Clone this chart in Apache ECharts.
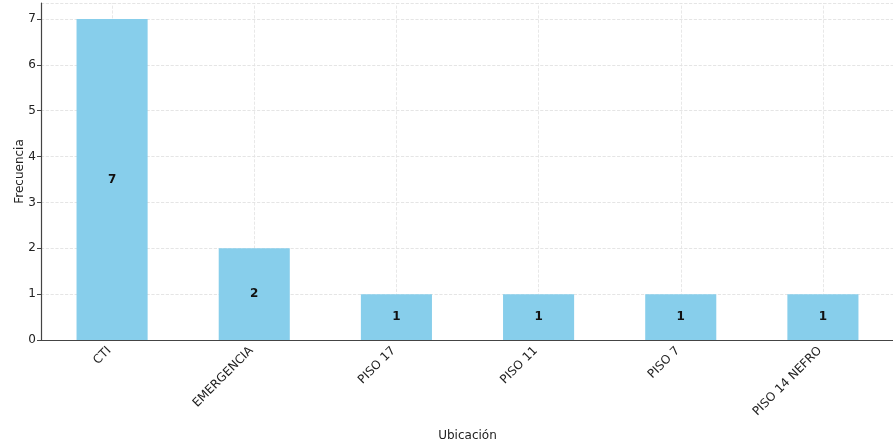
<!DOCTYPE html>
<html>
<head>
<meta charset="utf-8">
<script src="https://cdn.jsdelivr.net/npm/echarts@6/dist/echarts.min.js"></script>
<style>html,body{margin:0;padding:0;background:#fff}#c{width:893px;height:447px}</style>
</head>
<body>
<div id="c"></div>
<script>
const categories = ["CTI", "EMERGENCIA", "PISO 17", "PISO 11", "PISO 7", "PISO 14 NEFRO"];
const frecuencia = [7, 2, 1, 1, 1, 1];
const yTicks = [0, 1, 2, 3, 4, 5, 6, 7];

const chart = echarts.init(document.getElementById('c'), null, {renderer: 'canvas'});
const font = 'DejaVu Sans';
chart.setOption({
  animation: false,
  backgroundColor: '#ffffff',
  grid: {left: 41, top: 3, width: 853, bottom: 107, containLabel: false, outerBoundsMode: 'none'},
  xAxis: {
    type: 'category',
    data: categories,
    name: 'Ubicación',
    nameLocation: 'middle',
    nameGap: 90,
    nameMoveOverlap: false,
    nameTextStyle: {fontFamily: font, fontSize: 12, color: '#222'},
    axisLine: {lineStyle: {color: '#444', width: 1.2}},
    axisTick: {alignWithLabel: true, length: 4, lineStyle: {color: '#444'}},
    axisLabel: {rotate: 45, fontFamily: font, fontSize: 12, color: '#222', margin: 6, padding: [0, 4, 0, 0]},
    splitLine: {show: false}
  },
  yAxis: {
    type: 'value',
    min: 0,
    max: 7.35,
    interval: 1,
    name: 'Frecuencia',
    nameLocation: 'middle',
    nameGap: 15,
    nameMoveOverlap: false,
    nameTextStyle: {fontFamily: font, fontSize: 12, color: '#222'},
    axisLine: {show: true, lineStyle: {color: '#444', width: 1.2}},
    axisTick: {show: true, length: 4, lineStyle: {color: '#444'}},
    axisLabel: {fontFamily: font, fontSize: 12, color: '#222', margin: 5, showMaxLabel: false,
      formatter: v => yTicks.includes(v) ? String(v) : ''},
    splitLine: {show: true, lineStyle: {color: '#dedede', type: 'dashed', width: 0.8}}
  },
  series: [{
    type: 'bar',
    data: frecuencia,
    barWidth: '50%',
    z: 3,
    itemStyle: {color: '#87CEEB'},
    label: {show: true, position: 'inside', fontFamily: font, fontSize: 12, fontWeight: 'bold', color: '#111'},
    markLine: {
      silent: true,
      symbol: 'none',
      z: 0,
      label: {show: false},
      lineStyle: {color: '#e2e2e2', type: 'dashed', width: 0.8},
      data: categories.map(c => ({xAxis: c}))
    }
  }]
});
</script>
</body>
</html>
